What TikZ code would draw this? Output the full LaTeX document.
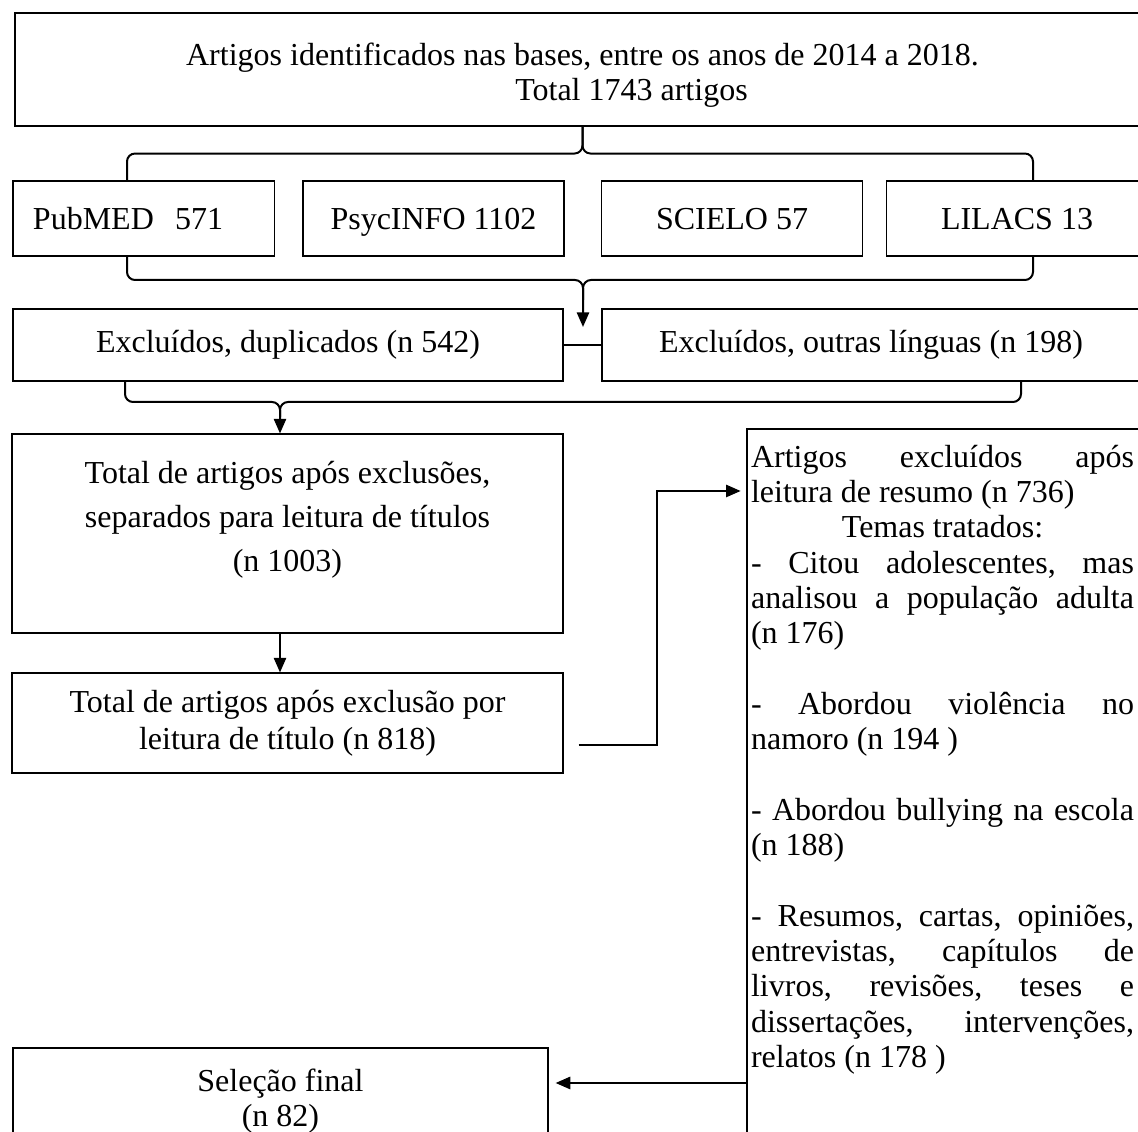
\documentclass[tikz,border=0pt]{standalone}
\usepackage{fontspec}
\setmainfont{Liberation Serif}
\usepackage{tikz}
\usetikzlibrary{arrows.meta}
\usetikzlibrary{calc}
\tikzset{>={Triangle[length=5.5pt, width=4.6pt]}}
\newcommand{\unitpx}{0.375pt}

\begin{document}
\begin{tikzpicture}[x=\unitpx, y=-\unitpx]
            \tikzset{box/.style = {draw, line width=0.4pt, inner sep=2pt, align=center, font=\fontsize{12pt}{13.24pt}\selectfont},
                     brace/.style = {line width=0.75pt, rounded corners=3pt},
                     link/.style = {line width=0.75pt, ->}}
            \useasboundingbox (0, 0) rectangle (1138, 1132);
            \clip (0, 0) rectangle (1138, 1132);
            \fill[white] (0, 0) rectangle (1138, 1132);
            % boxes
            \node[box, minimum width=1135*\unitpx, minimum height=113*\unitpx] (top) at (582.5, 69.5)
                {\rule{0pt}{12.5pt}Artigos identificados nas bases, entre os anos de 2014 a 2018.\\ \hspace*{36.75pt}Total 1743 artigos};
            \node[box, minimum width=261*\unitpx, minimum height=75*\unitpx, text width=82.9pt, inner xsep=7.5pt, align=left] (pub) at (143.5, 218.5) {PubMED\ \ 571};
            \foreach \name/\xc/\txt in {psyc/433.5/PsycINFO 1102, sci/732/SCIELO 57, lil/1017/LILACS 13} {
                \node[box, minimum width=261*\unitpx, minimum height=75*\unitpx, text height=7.9pt, text depth=0pt] (\name) at (\xc, 218.5) {\txt};
            }
            \node[box, minimum width=550*\unitpx, minimum height=72*\unitpx] (exl) at (288, 345) {Excluídos, duplicados (n 542)};
            \node[box, minimum width=538*\unitpx, minimum height=72*\unitpx] (exr) at (871, 345) {Excluídos, outras línguas (n 198)};
            \node[box, minimum width=551*\unitpx, minimum height=199*\unitpx, font=\fontsize{12pt}{16.5pt}\selectfont] (tot1) at (287.5, 533.5)
                {Total de artigos após exclusões,\\ separados para leitura de títulos\\ (n 1003)\\[-4pt] \mbox{}};
            \node[box, minimum width=551*\unitpx, minimum height=100*\unitpx, font=\fontsize{12pt}{13.9pt}\selectfont] (tot2) at (287.5, 723)
                {Total de artigos após exclusão por\\ leitura de título (n 818)};
            \node[draw, line width=0.8pt, anchor=north west, inner xsep=1.5pt, inner ysep=6pt] (rbox) at (746, 428)
                {\parbox[c][275pt][t]{143.6pt}{\fontsize{12pt}{13.24pt}\selectfont
                Artigos\hfill excluídos\hfill após\\
                leitura de resumo (n 736)\\
                \hspace*{\fill}Temas tratados:\hspace*{\fill}\\
                -\hfill Citou\hfill adolescentes,\hfill mas\\
                analisou\hfill a\hfill população\hfill adulta\\
                (n 176)\\[13.24pt]
                -\hfill Abordou\hfill violência\hfill no\\
                namoro (n 194 )\\[13.24pt]
                -\hfill Abordou\hfill bullying\hfill na\hfill escola\\
                (n 188)\\[13.24pt]
                -\hfill Resumos,\hfill cartas,\hfill opiniões,\\
                entrevistas,\hfill capítulos\hfill de\\
                livros,\hfill revisões,\hfill teses\hfill e\\
                dissertações,\hfill intervenções,\\
                relatos (n 178 )}\hspace*{10pt}};
            \node[box, line width=0.7pt, minimum width=535*\unitpx, minimum height=106*\unitpx] (fin) at (280.5, 1101) {Seleção final\\ (n 82)};
            % braces
            \draw[brace] ($(pub.north)+(-16.5, 0)$) |- ($(top.south)+(0, 27)$) -- (top.south);
            \draw[brace] ($(lil.north)+(16, 0)$) |- ($(top.south)+(0, 27)$) -- (top.south);
            \coordinate (b2m) at (583, 280);
            \coordinate (b2e) at (583, 327);
            \draw[brace, ->] ($(pub.south)+(-16.5, 0)$) |- (b2m) -- (b2e);
            \draw[brace] ($(lil.south)+(16, 0)$) |- (b2m) -- ($(b2m)+(0, 20)$);
            \draw[line width=0.75pt] (exl) -- (exr);
            \coordinate (b3m) at (280, 402);
            \draw[brace, ->] ($(exl.south)+(-163, 0)$) |- (b3m) -- (b3m |- tot1.north);
            \draw[brace] ($(exr.south)+(150, 0)$) |- (b3m) -- ($(b3m)+(0, 15)$);
            % arrows
            \draw[link] (tot1.south -| b3m) -- (tot2.north -| b3m);
            \coordinate (a1) at ($(tot2.east)+(15, 22)$);
            \coordinate (a2) at (657, 491);
            \draw[link, shorten >=2pt] (a1) -| (a2) -- (rbox.west |- a2);
            \coordinate (a3) at ($(fin.east)+(0, -18)$);
            \draw[link, shorten >=2.5pt] (rbox.west |- a3) -- (a3);
        \end{tikzpicture}
\end{document}
